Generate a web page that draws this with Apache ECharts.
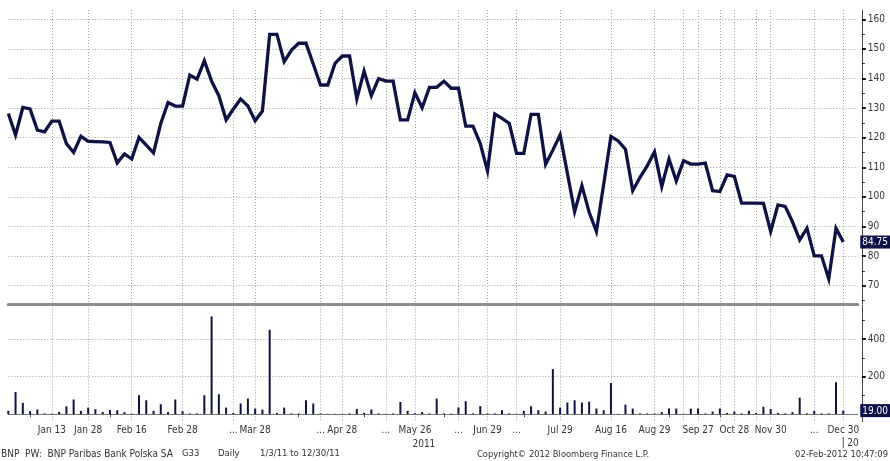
<!DOCTYPE html>
<html><head><meta charset="utf-8">
<script src="https://cdn.jsdelivr.net/npm/echarts@6/dist/echarts.min.js"></script>
<style>html,body{margin:0;padding:0;background:#fff}#c{width:890px;height:461px}</style>
</head><body><div id="c"></div>
<script>
// ---- data ----
const prices = [128.2,120.9,130.2,129.7,122.6,122.0,125.6,125.6,118.0,115.0,
 120.5,118.8,118.7,118.6,118.4,111.5,114.5,112.8,120.1,117.5,
 114.9,124.8,131.9,130.7,130.7,141.2,139.8,146.0,139.1,134.2,
 126.0,129.7,133.1,130.7,125.7,129.0,154.9,154.9,145.7,149.6,
 151.9,151.9,144.9,137.8,137.8,145.1,147.6,147.6,133.1,142.5,
 134.2,140.0,139.1,139.1,126.0,126.0,135.2,130.1,137.0,137.0,
 139.1,136.7,136.7,123.9,123.9,118.0,108.8,128.0,126.5,124.8,
 114.7,114.7,127.9,127.9,111.0,115.8,121.0,108.0,95.0,103.8,
 94.8,88.3,104.3,120.4,118.9,116.1,102.1,106.6,110.5,115.2,
 103.5,112.8,105.4,112.2,111.1,111.1,111.4,102.1,101.8,107.4,
 106.9,97.9,97.9,97.9,97.8,88.3,97.3,96.8,91.6,85.5,
 89.4,80.1,80.1,72.3,89.4,84.75];
const volumes = [18,118,60,16,25,4,3,12,42,78,
 18,35,27,12,23,21,11,3,101,74,
 18,53,12,78,16,4,4,101,520,106,
 35,7,57,83,30,25,449,7,35,4,
 4,74,57,4,2,2,2,4,28,7,
 25,4,2,4,65,18,5,12,4,83,
 4,3,36,69,4,43,4,4,21,4,
 2,18,42,21,14,240,35,62,74,62,
 67,30,21,166,2,51,30,4,4,4,
 11,30,30,2,30,30,4,14,30,7,
 14,4,18,7,39,27,7,4,11,88,
 4,18,4,4,170,19];
const tickIndex = [6,11,17,24,31,34,43,46,52,56,62,66,70,76,83,89,93,95,98,100,103,105,111,115];
const tickText  = ['Jan 13','Jan 28','Feb 16','Feb 28','...','Mar 28','...','Apr 28','...','May 26','...','Jun 29','...','Jul 29','Aug 16','Aug 29','','Sep 27','','Oct 28','','Nov 30','...','Dec 30'];
const monthTickIndex = [3,14,40,49,60,71,91,98];
const yearIndex = [56,115];
const yearText = ['2011','20'];
const priceLabels = [70,80,90,100,110,120,130,140,150,160];
const priceTicks = [65,75,85,95,105,115,125,135,145,155];
const volumeGrid = [0,200,400];
const volumeLabels = [200,400];
const volumeTicks = [100,300,500];
const footerLeft = ['BNP  PW:  BNP Paribas Bank Polska SA','G33','Daily','1/3/11 to 12/30/11'];
const footerMid = 'Copyright\u00a9 2012 Bloomberg Finance L.P.';
const footerRight = '02-Feb-2012 10:47:09';

// ---- build ----
const PAD = 2;
const categories = [];
for (let i = 0; i < prices.length + PAD; i++) {
  const k = tickIndex.indexOf(i);
  categories.push(k >= 0 ? tickText[k] : '');
}
const FONT = '"DejaVu Sans Condensed", "DejaVu Sans", sans-serif';
const TXT = '#333';
const dotted = {color:'#a0a0a0', width:1, type:[1,2]};
const isGrid = (i) => tickIndex.indexOf(i) >= 0;
const isLabel = (i) => { const k = tickIndex.indexOf(i); return k >= 0 && tickText[k] !== ''; };

const chart = echarts.init(document.getElementById('c'), null, {renderer:'canvas'});
const last = prices[prices.length-1];
const lastVol = volumes[volumes.length-1];
const tag = (v) => ({
  show:true, status:'show', value:v, type:'line', triggerTooltip:false,
  lineStyle:{opacity:0},
  label:{show:true, precision:2, backgroundColor:'#0b1048', color:'#fff', fontSize:10,
    fontFamily:FONT, padding:[2,2,1,2], margin:2, borderRadius:0}
});

chart.setOption({
  animation:false,
  backgroundColor:'#fff',
  grid:[
    {left:8.3, right:32.2, top:10, height:294},
    {left:8.3, right:32.2, top:305.5, height:116.2}
  ],
  xAxis:[
    {type:'category', gridIndex:0, data:categories, boundaryGap:false,
     axisLine:{show:true, lineStyle:{color:'#8c8c8c', width:3}},
     axisTick:{show:false}, axisLabel:{show:false},
     splitLine:{show:true, interval:(i)=>isGrid(i), lineStyle:dotted}},
    {type:'category', gridIndex:1, data:categories, boundaryGap:false,
     axisLine:{show:true, lineStyle:{color:'#777', width:1}},
     axisTick:{show:true, length:3, interval:(i)=>monthTickIndex.indexOf(i)>=0, lineStyle:{color:'#555'}},
     axisLabel:{show:true, interval:(i)=>isLabel(i), margin:4, color:TXT, fontSize:10, fontFamily:FONT},
     splitLine:{show:true, interval:(i)=>isGrid(i), lineStyle:dotted}}
  ],
  yAxis:[
    {type:'value', gridIndex:0, position:'right', offset:4, min:63.82, max:163.14, scale:true,
     axisLine:{show:true, lineStyle:{color:'#444'}},
     axisTick:{show:true, length:4, customValues:priceLabels, lineStyle:{color:'#111', width:2}},
     axisLabel:{show:true, customValues:priceLabels, margin:6, color:TXT, fontSize:10, fontFamily:FONT},
     splitLine:{show:true, lineStyle:dotted},
     axisPointer:tag(last)},
    {type:'value', gridIndex:0, position:'right', offset:4, min:63.82, max:163.14, scale:true,
     axisLine:{show:false},
     axisTick:{show:true, length:3, customValues:priceTicks, lineStyle:{color:'#222', width:1}},
     axisLabel:{show:false}, splitLine:{show:false}},
    {type:'value', gridIndex:1, position:'right', offset:4, min:-39.9, max:578,
     axisLine:{show:true, lineStyle:{color:'#444'}},
     axisTick:{show:true, length:4, customValues:volumeGrid, lineStyle:{color:'#111', width:2}},
     axisLabel:{show:true, customValues:volumeLabels, margin:6, color:TXT, fontSize:10, fontFamily:FONT},
     splitLine:{show:true, lineStyle:dotted},
     axisPointer:tag(lastVol)},
    {type:'value', gridIndex:1, position:'right', offset:4, min:-39.9, max:578,
     axisLine:{show:false},
     axisTick:{show:true, length:3, customValues:volumeTicks, lineStyle:{color:'#222', width:1}},
     axisLabel:{show:false}, splitLine:{show:false}}
  ],
  series:[
    {type:'line', xAxisIndex:0, yAxisIndex:0, data:prices, symbol:'none', showSymbol:false,
     lineStyle:{color:'#0e1244', width:3.3, join:'miter'}, itemStyle:{color:'#0e1244'}, z:5},
    {type:'bar', xAxisIndex:1, yAxisIndex:2, data:volumes, barWidth:2,
     itemStyle:{color:'#0e1244'}, z:5}
  ]
});

// year labels and footer
const xs = yearIndex.map(i => chart.convertToPixel({xAxisIndex:1}, i));
const gr = [];
gr.push({type:'text', x:xs[0]+9, y:444, style:{text:yearText[0], fill:TXT, font:'10px '+FONT, align:'center', verticalAlign:'middle'}});
gr.push({type:'line', shape:{x1:xs[1], y1:437, x2:xs[1], y2:448}, style:{stroke:'#555', lineWidth:1}});
gr.push({type:'text', x:xs[1]+4, y:443, style:{text:yearText[1], fill:TXT, font:'10px '+FONT, align:'left', verticalAlign:'middle'}});
const fx = [1,182,218,260];
footerLeft.forEach((t,k)=>gr.push({type:'text', x:fx[k], y:454, style:{text:t, fill:TXT, font:(k===0?'10px ':'9.5px ')+FONT, align:'left', verticalAlign:'middle'}}));
gr.push({type:'text', x:477, y:455, style:{text:footerMid, fill:TXT, font:'9.3px '+FONT, align:'left', verticalAlign:'middle'}});
gr.push({type:'text', x:888, y:455, style:{text:footerRight, fill:TXT, font:'9.3px '+FONT, align:'right', verticalAlign:'middle'}});
chart.setOption({graphic:gr});
</script></body></html>
